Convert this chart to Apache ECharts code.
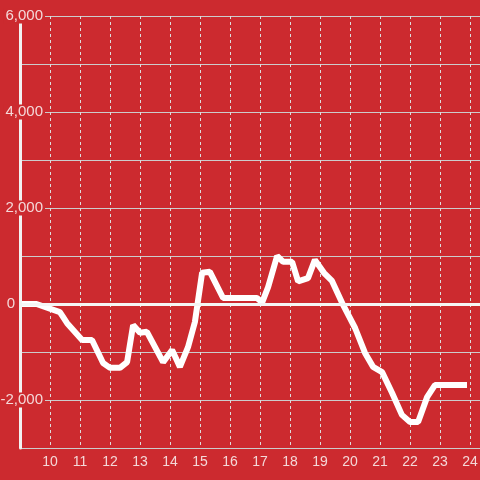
<!DOCTYPE html>
<html>
<head>
<meta charset="utf-8">
<script src="https://cdn.jsdelivr.net/npm/echarts@6/dist/echarts.min.js"></script>
<style>
  html, body { margin: 0; padding: 0; background: #cc2a2f; }
  #main { width: 480px; height: 480px; }
</style>
</head>
<body>
<div id="main"></div>
<script>
// hours of the day and the value read at each of them
var hours = [9.0, 9.55, 10.33, 10.57, 11.07, 11.4, 11.77, 12.0, 12.33, 12.57, 12.77, 13.0, 13.23,
    13.77, 14.07, 14.33, 14.6, 14.83, 15.07, 15.33, 15.77, 16.9, 17.07, 17.27, 17.57, 17.77,
    18.07, 18.27, 18.6, 18.83, 19.13, 19.4, 19.77, 20.17, 20.5, 20.77, 21.07, 21.4, 21.73,
    22.0, 22.27, 22.57, 22.83, 23.9];
var values = [0, 0, -170, -400, -750, -750, -1230, -1330, -1330, -1210, -440, -600, -580,
    -1210, -960, -1310, -900, -375, 650, 670, 125, 125, 30, 350, 1000, 880,
    880, 470, 540, 920, 650, 480, -20, -500, -1020, -1310, -1420, -1850, -2310,
    -2460, -2460, -1940, -1690, -1690];
var xTicks = [10, 11, 12, 13, 14, 15, 16, 17, 18, 19, 20, 21, 22, 23, 24];
var yTicks = [-2000, 0, 2000, 4000, 6000];

var bg = '#cc2a2f';
var labelColor = '#f4d8d8';

var points = [];
for (var i = 0; i < hours.length; i++) {
    points.push([hours[i], values[i]]);
}

function addCommas(v) {
    return String(v).replace(/\B(?=(\d{3})+(?!\d))/g, ',');
}

var chart = echarts.init(document.getElementById('main'));
var option = {
    backgroundColor: bg,
    animation: false,
    grid: { left: 20, right: 0, top: 16, bottom: 32, containLabel: false, outerBoundsMode: 'none' },
    xAxis: {
        type: 'value',
        min: 9,
        max: 24 + 1 / 3,
        interval: 1,
        axisLine: { show: false },
        axisTick: { show: false },
        axisLabel: {
            color: labelColor,
            fontSize: 14,
            fontFamily: 'Liberation Sans',
            margin: 7,
            showMaxLabel: false,
            formatter: function (v) {
                return xTicks.indexOf(v) >= 0 ? String(v) : '';
            }
        },
        splitLine: { show: true, lineStyle: { color: '#dddddd', width: 1, type: [3, 3] } }
    },
    yAxis: [
        {
            type: 'value',
            min: -3000,
            max: 6000,
            interval: 1000,
            z: 0,
            axisLine: { show: false },
            axisTick: { show: false },
            axisLabel: { show: false },
            splitLine: { show: true, lineStyle: { color: '#cccccc', width: 1 } }
        },
        {
            type: 'value',
            position: 'left',
            min: -3000,
            max: 6000,
            interval: 1000,
            z: 10,
            axisLine: { show: true, lineStyle: { color: '#f2f2f2', width: 3 } },
            axisTick: { show: false },
            splitLine: { show: false },
            axisLabel: {
                margin: -25,
                align: 'right',
                formatter: function (v) {
                    if (yTicks.indexOf(v) < 0) return '';
                    if (v === 0) return '{z|0}';
                    return '{b|' + addCommas(v) + '}';
                },
                rich: {
                    b: {
                        color: labelColor,
                        fontSize: 15,
                        fontFamily: 'Liberation Sans',
                        backgroundColor: bg,
                        padding: [0, 2],
                        lineHeight: 16
                    },
                    z: {
                        color: labelColor,
                        fontSize: 15,
                        fontFamily: 'Liberation Sans',
                        padding: [0, 30, 0, 0],
                        lineHeight: 16
                    }
                }
            }
        }
    ],
    series: [
        {
            type: 'line',
            yAxisIndex: 0,
            data: points,
            showSymbol: false,
            lineStyle: { color: '#ffffff', width: 6 },
            markLine: {
                silent: true,
                symbol: 'none',
                label: { show: false },
                lineStyle: { color: '#f5f5f5', width: 3, type: 'solid' },
                data: [{ yAxis: 0 }]
            }
        }
    ]
};
chart.setOption(option);
</script>
</body>
</html>
